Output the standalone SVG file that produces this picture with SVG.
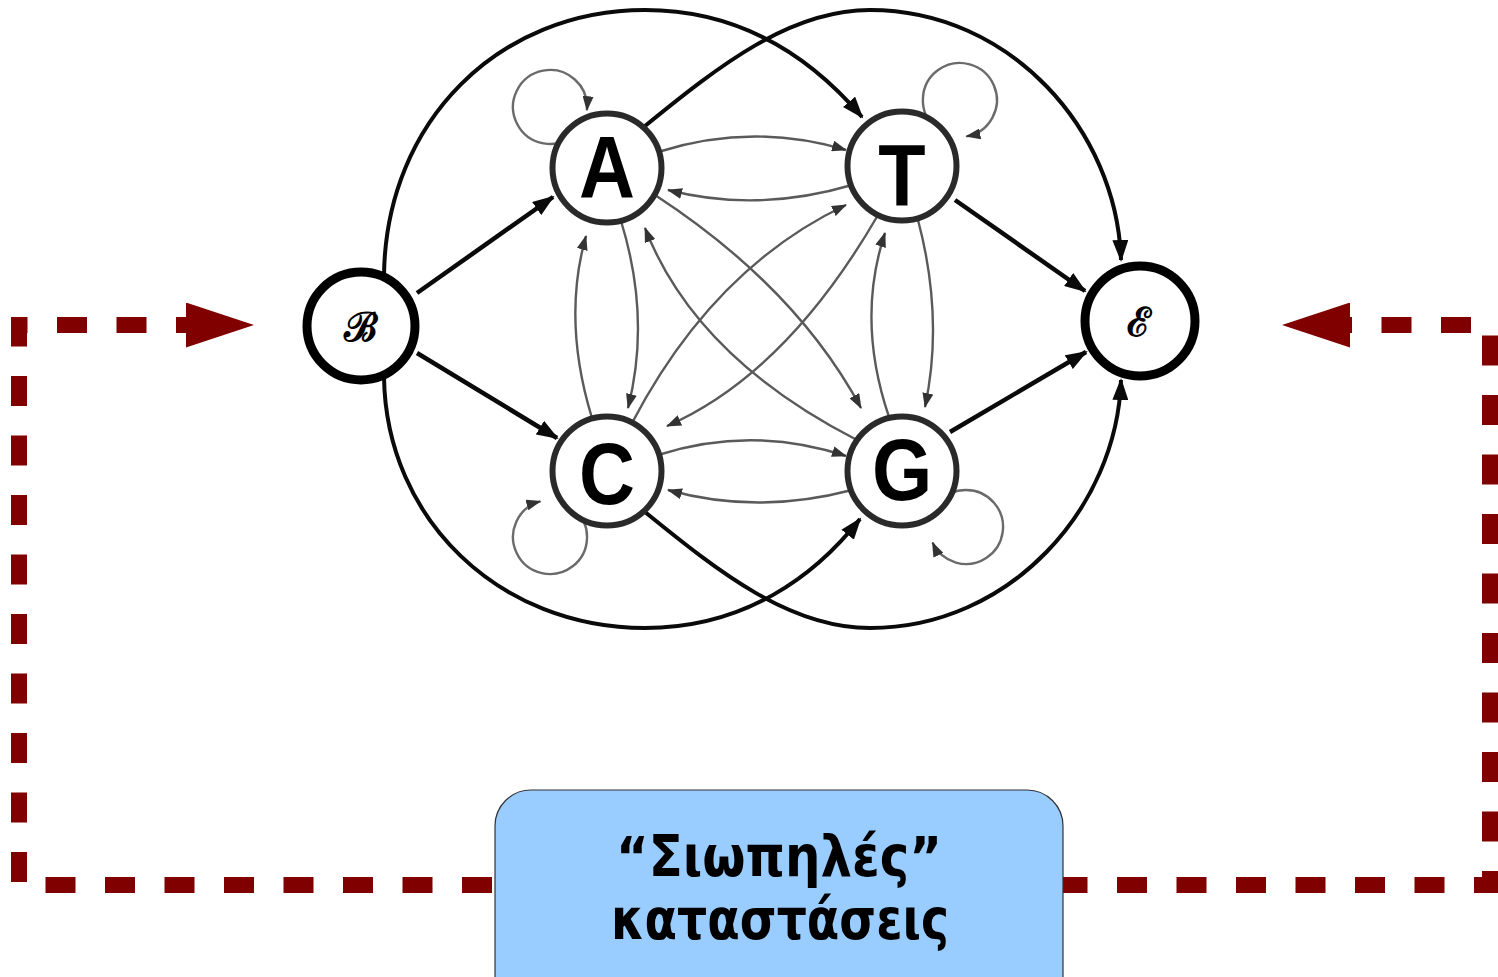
<svg xmlns="http://www.w3.org/2000/svg" width="1498" height="977" viewBox="0 0 1498 977">
<style>
.thick{fill:none;stroke:#0a0a0a;stroke-width:4.5;marker-end:url(#ahb)}
.big{fill:none;stroke:#0a0a0a;stroke-width:4;marker-end:url(#ahb)}
.thin{fill:none;stroke:#5a5a5a;stroke-width:2.4;marker-end:url(#ahs)}
.loop{fill:none;stroke:#6a6a6a;stroke-width:2.4;marker-end:url(#ahs)}
.fb{fill:none;stroke:#800000;stroke-width:16;stroke-dasharray:30 29.5;marker-end:url(#ahr)}
.state circle{fill:#fff;stroke:#2a2a2a;stroke-width:6}
.state text{font-family:"Liberation Sans",Arial,sans-serif;font-weight:bold;font-size:88px;fill:#000;text-anchor:middle}
.term circle{fill:#fff;stroke:#000;stroke-width:9}
.term text{font-family:"DejaVu Serif",serif;font-weight:bold;font-size:40px;fill:#000;text-anchor:middle}
.box rect{fill:#99ccff;stroke:#333;stroke-width:1.2}
.box text{font-family:"DejaVu Sans",sans-serif;font-weight:bold;font-size:56px;fill:#000;text-anchor:middle}
</style>
<defs>
<marker id="ahb" markerUnits="userSpaceOnUse" markerWidth="22" markerHeight="16" refX="20" refY="8" orient="auto"><path d="M0,0 L22,8 L0,16 Z" fill="#0a0a0a"/></marker>
<marker id="ahs" markerUnits="userSpaceOnUse" markerWidth="15" markerHeight="11" refX="14" refY="5.5" orient="auto"><path d="M0,0 L15,5.5 L0,11 Z" fill="#333"/></marker>
<marker id="ahr" markerUnits="userSpaceOnUse" markerWidth="68" markerHeight="45" refX="0" refY="22.5" orient="auto"><path d="M0,0 L68,22.5 L0,45 Z" fill="#800000"/></marker>
</defs>
<rect width="1498" height="977" fill="#fff"/>
<g id="connectors">
<path class="big" d="M384,275 C386,120 500,10 645,10 C745,10 815,62 862,117"/>
<path class="big" d="M645,126 C720,65 790,10 870,10 C1010,10 1117,130 1121,260"/>
<path class="big" d="M384,377 C386,520 500,628 645,628 C745,628 815,576 860,519"/>
<path class="big" d="M645,512 C720,573 790,628 870,628 C1010,628 1117,508 1121,380"/>
<path class="thick" d="M417,293 L553,197"/>
<path class="thick" d="M417,353 L557,438"/>
<path class="thick" d="M955,200 L1085,291"/>
<path class="thick" d="M950,432 L1086,352"/>
<path class="thin" d="M658,152 Q752,122 846,150"/>
<path class="thin" d="M852,185 Q757,213 668,190"/>
<path class="thin" d="M658,455 Q752,425 846,456"/>
<path class="thin" d="M852,490 Q757,515 668,490"/>
<path class="thin" d="M592,418 Q562,320 586,236"/>
<path class="thin" d="M621,221 Q651,318 628,408"/>
<path class="thin" d="M889,417 Q856,320 885,233"/>
<path class="thin" d="M918,220 Q944,318 925,407"/>
<path class="thin" d="M655,195 Q796,287 861,408"/>
<path class="thin" d="M857,440 Q695,357 645,228"/>
<path class="thin" d="M878,215 Q786,374 667,426"/>
<path class="thin" d="M632,423 Q713,268 846,205"/>
<path class="loop" d="M575.2,134.1 A37,37 0 1 1 586.9,110.2"/>
<path class="loop" d="M935.6,127.9 A37,37 0 1 1 966.4,136.4"/>
<path class="loop" d="M574.3,509.1 A37,37 0 1 1 540.4,501.3"/>
<path class="loop" d="M938.1,502.7 A37,37 0 1 1 932.5,542.6"/>
<path class="fb" style="stroke-dashoffset:-3" d="M495,885 H19 V325 H186"/>
<path class="fb" style="stroke-dashoffset:5.5" d="M1063,885 H1490 V325 H1350"/>
</g>
<g id="node-B" class="term"><circle cx="361" cy="326" r="54"/><text x="361" y="341">ℬ</text></g>
<g id="node-E" class="term"><circle cx="1140" cy="321" r="55"/><text x="1139" y="336">ℰ</text></g>
<g id="node-A" class="state"><circle cx="607" cy="168" r="54.5"/><text transform="translate(607,197) scale(0.88,1)">A</text></g>
<g id="node-T" class="state"><circle cx="902" cy="166" r="54.5"/><text transform="translate(902,205) scale(0.88,1)">T</text></g>
<g id="node-C" class="state"><circle cx="607" cy="471" r="54.5"/><text transform="translate(607,504) scale(0.88,1)">C</text></g>
<g id="node-G" class="state"><circle cx="902" cy="471" r="54.5"/><text transform="translate(902,500) scale(0.88,1)">G</text></g>
<g id="silent-states" class="box"><rect x="495" y="790" width="568" height="230" rx="36"/><text x="779" y="876" textLength="326" lengthAdjust="spacingAndGlyphs">“Σιωπηλές”</text><text x="780" y="939" textLength="338" lengthAdjust="spacingAndGlyphs">καταστάσεις</text></g>
</svg>
